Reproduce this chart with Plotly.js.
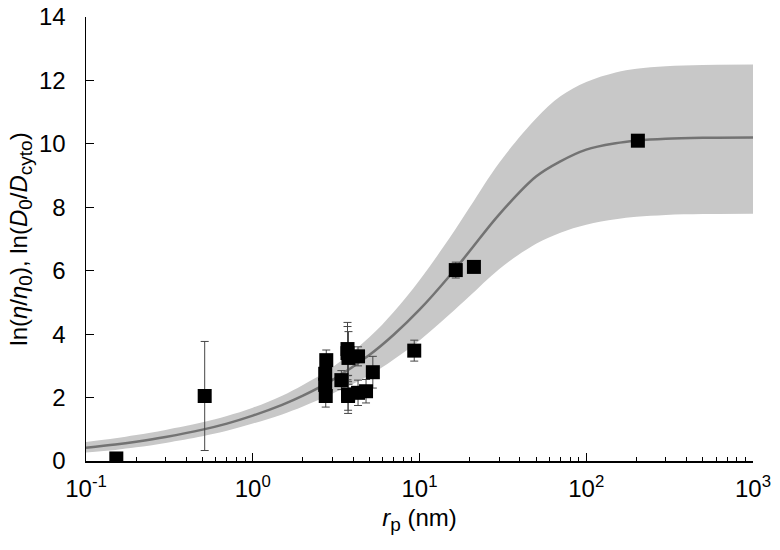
<!DOCTYPE html>
<html>
<head>
<meta charset="utf-8">
<script src="https://cdn.plot.ly/plotly-3.0.1.min.js"></script>
<style>html,body{margin:0;padding:0;background:#fff;}#chart{width:780px;height:550px;}</style>
</head>
<body>
<div id="chart"></div>
<script>
// Measured data points (r_p in nm, ln value, error)
var pointR   = [0.152, 0.515, 2.76, 2.72, 2.72, 2.74, 3.4, 3.7, 3.7, 3.75, 4.28, 3.73, 3.73, 4.28, 4.78, 5.25, 9.3, 16.5, 21.2, 204];
var pointLn  = [0.08, 2.05, 3.18, 2.75, 2.4, 2.05, 2.55, 3.53, 3.4, 3.25, 3.3, 2.05, 2.1, 2.15, 2.2, 2.8, 3.48, 6.02, 6.12, 10.1];
var pointErr = [0, 1.72, 0.32, 0.3, 0.3, 0.35, 0.3, 0.84, 0.84, 0.83, 0.3, 0.45, 0.6, 0.4, 0.37, 0.5, 0.33, 0.25, 0, 0];

// Fitted curve and confidence band
var curveR     = [0.1, 0.15, 0.2, 0.3, 0.5, 0.7, 1, 1.5, 2, 3, 5, 7, 10, 15, 20, 30, 50, 70, 100, 150, 200, 300, 500, 1000];
var curveLn    = [0.42, 0.52, 0.61, 0.76, 0.99, 1.18, 1.43, 1.77, 2.06, 2.55, 3.34, 3.98, 4.77, 5.81, 6.62, 7.77, 8.97, 9.45, 9.82, 10.02, 10.1, 10.16, 10.19, 10.2];
var bandUpper  = [0.6, 0.72, 0.82, 0.98, 1.22, 1.42, 1.68, 2.06, 2.4, 2.95, 3.9, 4.7, 5.7, 7.0, 8.0, 9.4, 10.8, 11.5, 11.95, 12.25, 12.37, 12.45, 12.49, 12.5];
var bandLower  = [0.27, 0.35, 0.43, 0.57, 0.78, 0.95, 1.18, 1.47, 1.72, 2.12, 2.7, 3.2, 3.8, 4.6, 5.2, 6.05, 6.85, 7.2, 7.45, 7.62, 7.7, 7.76, 7.79, 7.8];

// Axis ticks
var xTickVals = [0.1, 1, 10, 100, 1000];
var xTickText = ['10<sup>-1</sup>', '10<sup>0</sup>', '10<sup>1</sup>', '10<sup>2</sup>', '10<sup>3</sup>'];
var xMinorVals = [];
[0.1, 1, 10, 100].forEach(function (d) { for (var k = 2; k <= 9; k++) xMinorVals.push(d * k); });
var yTickVals = [0, 2, 4, 6, 8, 10, 12, 14];

var font = 'Liberation Sans, Arial, sans-serif';
var sub = function (t) { return '<sub><span style="font-size:19px">' + t + '</span></sub>'; };

var traces = [
  {x: curveR, y: bandLower, type: 'scatter', mode: 'lines', line: {width: 0, shape: 'spline', color: 'rgba(0,0,0,0)'}, hoverinfo: 'skip', showlegend: false},
  {x: curveR, y: bandUpper, type: 'scatter', mode: 'lines', fill: 'tonexty', fillcolor: 'rgb(200,200,200)', line: {width: 0, shape: 'spline', color: 'rgba(0,0,0,0)'}, hoverinfo: 'skip', showlegend: false},
  {x: curveR, y: curveLn, type: 'scatter', mode: 'lines', line: {width: 2.5, shape: 'spline', color: 'rgb(115,115,115)'}, showlegend: false},
  {x: pointR, y: pointLn, type: 'scatter', mode: 'markers',
   marker: {symbol: 'square', size: 14, color: 'black'},
   error_y: {type: 'data', array: pointErr, visible: true, color: 'rgb(70,70,70)', thickness: 1, width: 4},
   showlegend: false}
];

var layout = {
  width: 780, height: 550,
  margin: {l: 86, r: 27, t: 17, b: 89},
  paper_bgcolor: 'white', plot_bgcolor: 'white',
  font: {family: font, size: 24, color: 'black'},
  showlegend: false,
  xaxis: {
    type: 'log', range: [-1, 3],
    tickmode: 'array', tickvals: xTickVals, ticktext: xTickText,
    ticks: 'inside', ticklen: 8, tickwidth: 1, tickcolor: 'black',
    minor: {tickvals: xMinorVals, ticks: 'inside', ticklen: 4, tickwidth: 1, tickcolor: 'black', showgrid: false},
    showline: true, linecolor: 'black', linewidth: 1.5, mirror: false,
    showgrid: false, zeroline: false,
    ticklabelstandoff: 6,
    tickfont: {family: font, size: 24, color: 'black'},
    title: {text: '<i>r</i>' + sub('p') + ' (nm)', font: {family: font, size: 24, color: 'black'}, standoff: 8}
  },
  yaxis: {
    range: [0, 14],
    tickmode: 'array', tickvals: yTickVals,
    ticks: 'inside', ticklen: 8, tickwidth: 1, tickcolor: 'black',
    showline: true, linecolor: 'black', linewidth: 1.5, mirror: false,
    showgrid: false, zeroline: false,
    ticklabelstandoff: 14,
    tickfont: {family: font, size: 24, color: 'black'},
    title: {text: 'ln(<i>η</i>/<i>η</i>' + sub('0') + '), ln(<i>D</i>' + sub('0') + '/<i>D</i>' + sub('cyto') + ')', font: {family: font, size: 24, color: 'black'}, standoff: 4}
  }
};

Plotly.newPlot('chart', traces, layout, {staticPlot: true, displayModeBar: false});
</script>
</body>
</html>
